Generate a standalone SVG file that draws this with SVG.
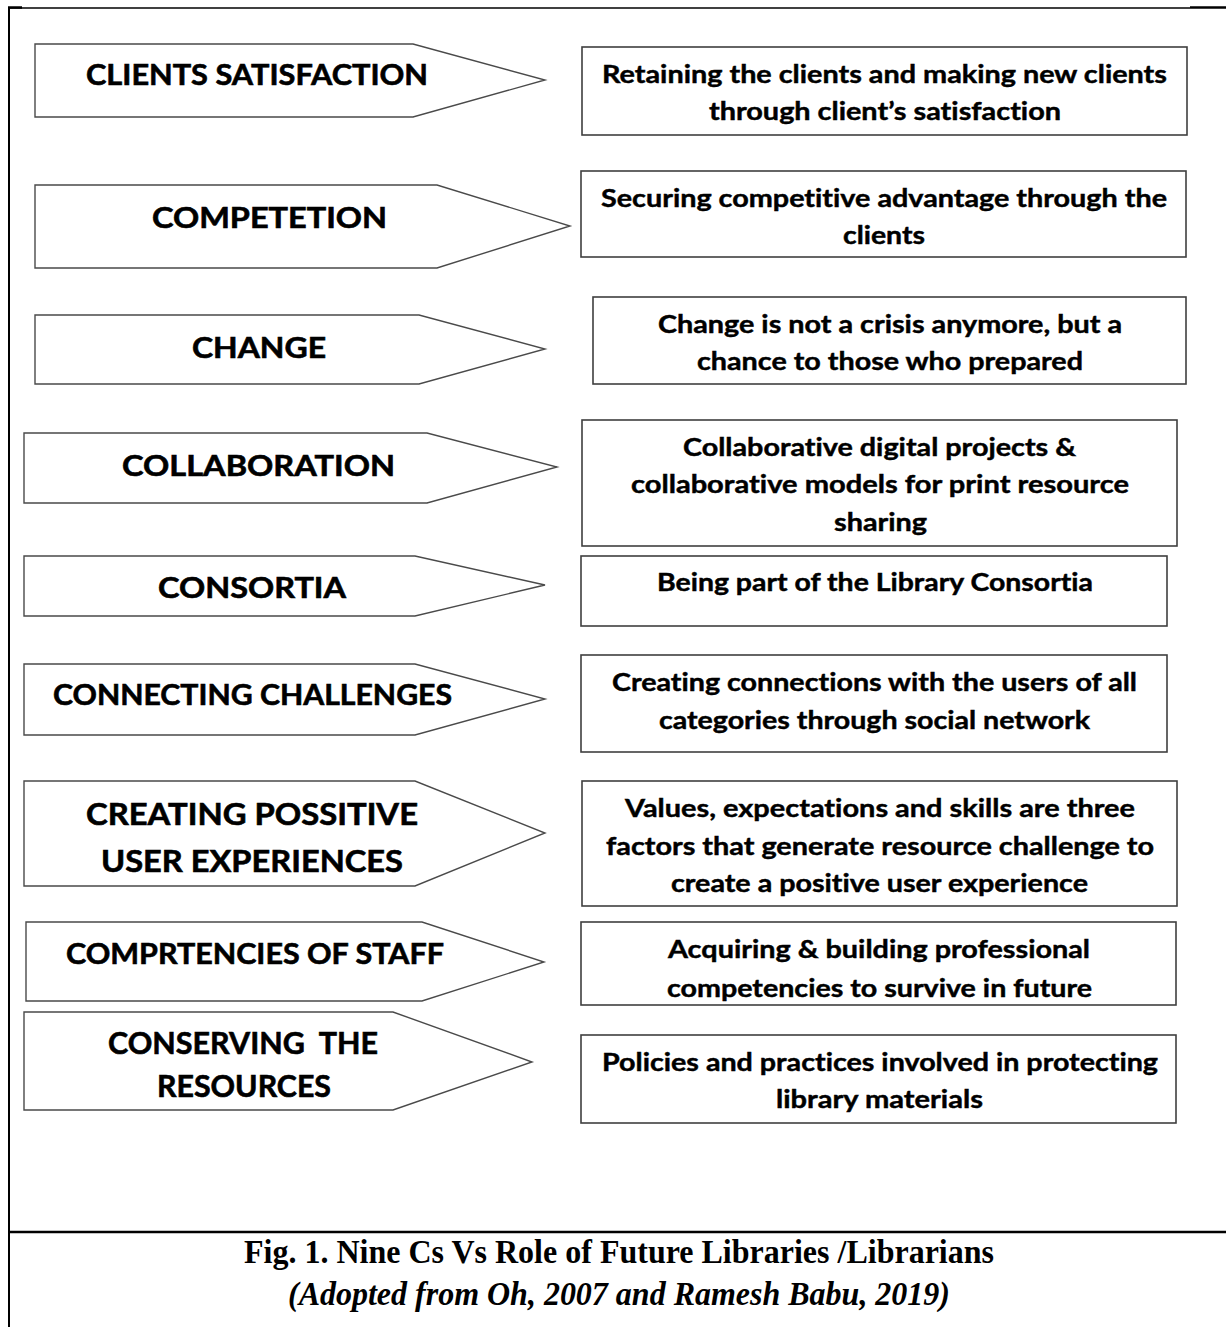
<svg xmlns="http://www.w3.org/2000/svg" width="1226" height="1327" viewBox="0 0 1226 1327">
  <style>
    .tag { fill: #ffffff; stroke: #4a4a4a; stroke-width: 1.4; }
    .box { fill: #ffffff; stroke: #3f3f3f; stroke-width: 1.6; }
    .lbl { font-family: Lato, "Open Sans", "Liberation Sans", sans-serif; font-weight: 700; font-size: 29px; fill: #000; stroke: #000; stroke-width: 0.6; font-variant-ligatures: none; }
    .lbl-lg { font-size: 30px; }
    .desc { font-family: Lato, "Open Sans", "Liberation Sans", sans-serif; font-weight: 700; font-size: 25px; fill: #000; stroke: #000; stroke-width: 0.45; font-variant-ligatures: none; }
    .cap { font-family: "Liberation Serif", "Times New Roman", serif; font-weight: 700; font-size: 33px; fill: #000; }
    .frame { stroke: #000; fill: none; }
  </style>
  <defs>
    <clipPath id="clip-box8">
      <rect x="581" y="922" width="595" height="80"/>
    </clipPath>
  </defs>

  <rect x="0" y="0" width="1226" height="1327" fill="#ffffff"/>

  <!-- page frame -->
  <g id="frame">
    <line class="frame" x1="8" y1="8" x2="1190" y2="8" stroke-width="1.5"/>
    <line class="frame" x1="8" y1="7.5" x2="22" y2="7.5" stroke-width="2.5"/>
    <line class="frame" x1="1190" y1="7.5" x2="1226" y2="7.5" stroke-width="2.5"/>
    <line class="frame" x1="9" y1="7" x2="9" y2="1327" stroke-width="2"/>
    <line class="frame" x1="8" y1="1232" x2="1226" y2="1232" stroke-width="2.5"/>
  </g>

  <!-- no connectors: each C points at its description -->
  <g id="connectors"></g>

  <!-- 1 -->
  <g id="c-clients-satisfaction">
    <polygon class="tag" points="35,44 413,44 545,80 413,117 35,117"/>
    <text class="lbl" x="86" y="85" textLength="342" lengthAdjust="spacingAndGlyphs">CLIENTS SATISFACTION</text>
  </g>
  <g id="r-clients-satisfaction">
    <rect class="box" x="582" y="47" width="605" height="88"/>
    <text class="desc" x="602" y="83" textLength="565" lengthAdjust="spacingAndGlyphs">Retaining the clients and making new clients</text>
    <text class="desc" x="709" y="120" textLength="352" lengthAdjust="spacingAndGlyphs">through client’s satisfaction</text>
  </g>

  <!-- 2 -->
  <g id="c-competetion">
    <polygon class="tag" points="35,185 437,185 570,226 437,268 35,268"/>
    <text class="lbl" x="152" y="228" textLength="235" lengthAdjust="spacingAndGlyphs">COMPETETION</text>
  </g>
  <g id="r-competetion">
    <rect class="box" x="581" y="171" width="605" height="86"/>
    <text class="desc" x="601" y="207" textLength="566" lengthAdjust="spacingAndGlyphs">Securing competitive advantage through the</text>
    <text class="desc" x="843" y="244" textLength="82" lengthAdjust="spacingAndGlyphs">clients</text>
  </g>

  <!-- 3 -->
  <g id="c-change">
    <polygon class="tag" points="35,315 419,315 545,349 419,384 35,384"/>
    <text class="lbl" x="192" y="358" textLength="134" lengthAdjust="spacingAndGlyphs">CHANGE</text>
  </g>
  <g id="r-change">
    <rect class="box" x="593" y="297" width="593" height="87"/>
    <text class="desc" x="658" y="333" textLength="464" lengthAdjust="spacingAndGlyphs">Change is not a crisis anymore, but a</text>
    <text class="desc" x="697" y="370" textLength="386" lengthAdjust="spacingAndGlyphs">chance to those who prepared</text>
  </g>

  <!-- 4 -->
  <g id="c-collaboration">
    <polygon class="tag" points="24,433 427,433 557,467 427,503 24,503"/>
    <text class="lbl" x="122" y="476" textLength="273" lengthAdjust="spacingAndGlyphs">COLLABORATION</text>
  </g>
  <g id="r-collaboration">
    <rect class="box" x="582" y="420" width="595" height="126"/>
    <text class="desc" x="683" y="456" textLength="393" lengthAdjust="spacingAndGlyphs">Collaborative digital projects &amp;</text>
    <text class="desc" x="631" y="493" textLength="498" lengthAdjust="spacingAndGlyphs">collaborative models for print resource</text>
    <text class="desc" x="834" y="531" textLength="93" lengthAdjust="spacingAndGlyphs">sharing</text>
  </g>

  <!-- 5 -->
  <g id="c-consortia">
    <polygon class="tag" points="24,556 415,556 545,585 415,616 24,616"/>
    <text class="lbl" x="158" y="598" textLength="188" lengthAdjust="spacingAndGlyphs">CONSORTIA</text>
  </g>
  <g id="r-consortia">
    <rect class="box" x="581" y="556" width="586" height="70"/>
    <text class="desc" x="657" y="591" textLength="436" lengthAdjust="spacingAndGlyphs">Being part of the Library Consortia</text>
  </g>

  <!-- 6 -->
  <g id="c-connecting-challenges">
    <polygon class="tag" points="24,664 415,664 545,699 415,735 24,735"/>
    <text class="lbl" x="53" y="705" textLength="399" lengthAdjust="spacingAndGlyphs">CONNECTING CHALLENGES</text>
  </g>
  <g id="r-connecting-challenges">
    <rect class="box" x="581" y="655" width="586" height="97"/>
    <text class="desc" x="612" y="691" textLength="525" lengthAdjust="spacingAndGlyphs">Creating connections with the users of all</text>
    <text class="desc" x="659" y="729" textLength="431" lengthAdjust="spacingAndGlyphs">categories through social network</text>
  </g>

  <!-- 7 -->
  <g id="c-creating-positive">
    <polygon class="tag" points="24,781 415,781 545,833 415,886 24,886"/>
    <text class="lbl lbl-lg" x="86" y="825" textLength="332" lengthAdjust="spacingAndGlyphs">CREATING POSSITIVE</text>
    <text class="lbl lbl-lg" x="101" y="872" textLength="302" lengthAdjust="spacingAndGlyphs">USER EXPERIENCES</text>
  </g>
  <g id="r-creating-positive">
    <rect class="box" x="582" y="781" width="595" height="125"/>
    <text class="desc" x="625" y="817" textLength="510" lengthAdjust="spacingAndGlyphs">Values, expectations and skills are three</text>
    <text class="desc" x="606" y="855" textLength="548" lengthAdjust="spacingAndGlyphs">factors that generate resource challenge to</text>
    <text class="desc" x="671" y="892" textLength="417" lengthAdjust="spacingAndGlyphs">create a positive user experience</text>
  </g>

  <!-- 8: second line is cut by the bottom edge of the box -->
  <g id="c-competencies">
    <polygon class="tag" points="26,922 422,922 544,962 422,1001 26,1001"/>
    <text class="lbl" x="66" y="964" textLength="378" lengthAdjust="spacingAndGlyphs">COMPRTENCIES OF STAFF</text>
  </g>
  <g id="r-competencies">
    <rect class="box" x="581" y="922" width="595" height="83"/>
    <g clip-path="url(#clip-box8)">
      <text class="desc" x="668" y="958" textLength="422" lengthAdjust="spacingAndGlyphs">Acquiring &amp; building professional</text>
      <text class="desc" x="667" y="997" textLength="425" lengthAdjust="spacingAndGlyphs">competencies to survive in future</text>
    </g>
  </g>

  <!-- 9 -->
  <g id="c-conserving">
    <polygon class="tag" points="24,1012 393,1012 532,1062 393,1110 24,1110"/>
    <text class="lbl lbl-lg" x="108" y="1054" textLength="270" lengthAdjust="spacingAndGlyphs" xml:space="preserve">CONSERVING  THE</text>
    <text class="lbl lbl-lg" x="157" y="1097" textLength="174" lengthAdjust="spacingAndGlyphs">RESOURCES</text>
  </g>
  <g id="r-conserving">
    <rect class="box" x="581" y="1035" width="595" height="88"/>
    <text class="desc" x="602" y="1071" textLength="556" lengthAdjust="spacingAndGlyphs">Policies and practices involved in protecting</text>
    <text class="desc" x="776" y="1108" textLength="207" lengthAdjust="spacingAndGlyphs">library materials</text>
  </g>

  <!-- caption -->
  <g id="caption">
    <text class="cap" x="244" y="1263" textLength="750" lengthAdjust="spacingAndGlyphs">Fig. 1. Nine Cs Vs Role of Future Libraries /Librarians</text>
    <text class="cap" x="288" y="1305" font-style="italic" textLength="662" lengthAdjust="spacingAndGlyphs">(Adopted from Oh, 2007 and Ramesh Babu, 2019)</text>
  </g>
</svg>
